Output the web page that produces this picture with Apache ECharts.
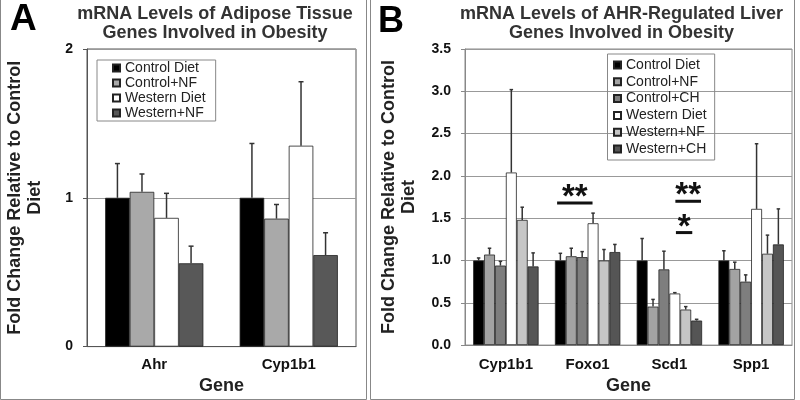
<!DOCTYPE html>
<html>
<head>
<meta charset="utf-8">
<script src="https://cdn.jsdelivr.net/npm/echarts@6/dist/echarts.min.js"></script>
<style>
  html, body { margin: 0; padding: 0; background: #fff; }
  #chart { width: 800px; height: 400px; }
</style>
</head>
<body>
<div id="chart"></div>
<script>
// ---- Panel A: adipose tissue ----
const genesA = ['Ahr', 'Cyp1b1'];
const groupsA = ['Control Diet', 'Control+NF', 'Western Diet', 'Western+NF'];
const controlDietA = [1.00, 1.00];
const controlNfA = [1.04, 0.86];
const westernDietA = [0.865, 1.35];
const westernNfA = [0.56, 0.615];
// upper error (SEM) for each bar
const errControlDietA = [0.23, 0.365];
const errControlNfA = [0.12, 0.095];
const errWesternDietA = [0.165, 0.43];
const errWesternNfA = [0.115, 0.15];

// ---- Panel B: liver ----
const genesB = ['Cyp1b1', 'Foxo1', 'Scd1', 'Spp1'];
const groupsB = ['Control Diet', 'Control+NF', 'Control+CH', 'Western Diet', 'Western+NF', 'Western+CH'];
const controlDietB = [1.00, 1.00, 1.00, 1.00];
const controlNfB = [1.07, 1.05, 0.455, 0.90];
const controlChB = [0.94, 1.04, 0.895, 0.75];
const westernDietB = [2.04, 1.44, 0.61, 1.61];
const westernNfB = [1.48, 1.00, 0.42, 1.08];
const westernChB = [0.93, 1.10, 0.29, 1.19];
const errControlDietB = [0.03, 0.085, 0.26, 0.115];
const errControlNfB = [0.075, 0.095, 0.085, 0.08];
const errControlChB = [0.05, 0.065, 0.215, 0.08];
const errWesternDietB = [0.98, 0.12, 0.01, 0.77];
const errWesternNfB = [0.15, 0.13, 0.035, 0.22];
const errWesternChB = [0.16, 0.09, 0.015, 0.42];

// significance bars: gene, first/last bar slot covered, height (fold change), label
const sigMarks = [
    { gene: 'Foxo1', from: 0.2, to: 3.45, y: 1.68, text: '**' },
    { gene: 'Scd1', from: 3.55, to: 5.9, y: 1.70, text: '**' },
    { gene: 'Scd1', from: 3.6, to: 5.1, y: 1.33, text: '*' },
];

const colorsA = ['#000000', '#a9a9a9', '#ffffff', '#585858'];
const colorsB = ['#000000', '#a3a3a3', '#7e7e7e', '#ffffff', '#c6c6c6', '#555555'];
const GAP_A = 0.27;
const GAP_B = 0.20;
const FONT = 'Liberation Sans, Arial, sans-serif';

const valuesA = [controlDietA, controlNfA, westernDietA, westernNfA];
const errorsA = [errControlDietA, errControlNfA, errWesternDietA, errWesternNfA];
const valuesB = [controlDietB, controlNfB, controlChB, westernDietB, westernNfB, westernChB];
const errorsB = [errControlDietB, errControlNfB, errControlChB, errWesternDietB, errWesternNfB, errWesternChB];

function barSeries(names, values, colors, axis, gap) {
    return names.map((name, i) => ({
        type: 'bar',
        name: name,
        xAxisIndex: axis,
        yAxisIndex: axis,
        data: values[i],
        barGap: '0%',
        barCategoryGap: gap * 100 + '%',
        itemStyle: { color: colors[i], borderColor: '#222', borderWidth: 0.8 },
        emphasis: { disabled: true },
        silent: true,
    }));
}

// upward-only error bars, placed over the matching bar of each group
function errorSeries(values, errors, axis, gap, capW) {
    const n = values.length;
    const data = [];
    values.forEach((vals, k) => vals.forEach((v, c) => data.push([c, k, v, errors[k][c]])));
    return {
        type: 'custom',
        xAxisIndex: axis,
        yAxisIndex: axis,
        z: 5,
        silent: true,
        encode: { x: 0, y: 2 },
        data: data,
        renderItem: (params, api) => {
            const c = api.value(0);
            const k = api.value(1);
            const v = api.value(2);
            const e = api.value(3);
            const bandW = api.size([1, 0])[0];
            const groupW = bandW * (1 - gap);
            const barW = groupW / n;
            const base = api.coord([c, v]);
            const top = api.coord([c, v + e]);
            const x = base[0] - groupW / 2 + barW * (k + 0.5);
            const style = { stroke: '#333', lineWidth: 1.5 };
            return {
                type: 'group',
                children: [
                    { type: 'line', shape: { x1: x, y1: base[1], x2: x, y2: top[1] }, style: style },
                    { type: 'line', shape: { x1: x - capW / 2, y1: top[1], x2: x + capW / 2, y2: top[1] }, style: style },
                ],
            };
        },
    };
}

const sigSeries = {
    type: 'custom',
    xAxisIndex: 1,
    yAxisIndex: 1,
    z: 6,
    silent: true,
    encode: { x: 0, y: 1 },
    data: sigMarks.map((m) => [genesB.indexOf(m.gene), m.y, m.from, m.to]),
    renderItem: (params, api) => {
        const mark = sigMarks[params.dataIndex];
        const p = api.coord([api.value(0), api.value(1)]);
        const bandW = api.size([1, 0])[0];
        const groupW = bandW * (1 - GAP_B);
        const barW = groupW / groupsB.length;
        const x0 = p[0] - groupW / 2;
        const x1 = x0 + api.value(2) * barW;
        const x2 = x0 + api.value(3) * barW;
        return {
            type: 'group',
            children: [
                { type: 'line', shape: { x1: x1, y1: p[1], x2: x2, y2: p[1] }, style: { stroke: '#111', lineWidth: 3 } },
                {
                    type: 'text',
                    x: (x1 + x2) / 2,
                    y: p[1] - 5,
                    style: {
                        text: mark.text,
                        font: 'bold 33px ' + FONT,
                        align: 'center',
                        verticalAlign: 'middle',
                        fill: '#111',
                    },
                },
            ],
        };
    },
};

function legendFor(names, colors, left, top, gap, padding) {
    return {
        data: names.map((n, i) => ({ name: n, itemStyle: { color: colors[i] } })),
        orient: 'vertical',
        left: left,
        top: top,
        icon: 'rect',
        itemWidth: 7,
        itemHeight: 7,
        itemGap: gap,
        padding: padding,
        borderColor: '#888',
        borderWidth: 1,
        selectedMode: false,
        textStyle: { fontSize: 14, color: '#222', fontFamily: FONT, lineHeight: 14 },
    };
}

function xAxisFor(idx, genes, axisColor, margin, nameGap) {
    return {
        gridIndex: idx,
        type: 'category',
        data: genes,
        axisLine: { lineStyle: { color: axisColor } },
        axisTick: { length: 4, lineStyle: { color: axisColor } },
        axisLabel: { fontWeight: 'bold', fontSize: 15, color: '#111', fontFamily: FONT, margin: margin },
        name: 'Gene',
        nameLocation: 'middle',
        nameGap: nameGap,
        nameTextStyle: { fontWeight: 'bold', fontSize: 18, color: '#222', fontFamily: FONT },
    };
}

function yAxisFor(idx, max, interval, axisColor, nameGap, digits) {
    return {
        gridIndex: idx,
        type: 'value',
        min: 0,
        max: max,
        interval: interval,
        axisLine: { show: true, lineStyle: { color: axisColor } },
        axisTick: { show: true, length: 4, lineStyle: { color: axisColor } },
        axisLabel: {
            fontWeight: 'bold', fontSize: 14, color: '#111', fontFamily: FONT, margin: 14,
            formatter: (v) => v.toFixed(digits),
        },
        splitLine: { lineStyle: { color: '#999' } },
        name: 'Fold Change Relative to Control\nDiet',
        nameLocation: 'middle',
        nameGap: nameGap,
        nameTextStyle: { fontWeight: 'bold', fontSize: 18, color: '#222', fontFamily: FONT, lineHeight: 20 },
    };
}

const chart = echarts.init(document.getElementById('chart'));
chart.setOption({
    animation: false,
    backgroundColor: '#fff',
    title: [
        {
            text: 'mRNA Levels of Adipose Tissue\nGenes Involved in Obesity',
            left: 215, top: 5, textAlign: 'center', padding: 0,
            textStyle: { fontSize: 18, fontWeight: 'bold', color: '#333', fontFamily: FONT, lineHeight: 19 },
        },
        {
            text: 'mRNA Levels of AHR-Regulated Liver\nGenes Involved in Obesity',
            left: 621.5, top: 5, textAlign: 'center', padding: 0,
            textStyle: { fontSize: 18, fontWeight: 'bold', color: '#333', fontFamily: FONT, lineHeight: 19 },
        },
    ],
    legend: [
        legendFor(groupsA, colorsA, 97, 60, 1, [1, 10, 1, 15]),
        legendFor(groupsB, colorsB, 607.5, 54, 2.8, [4, 8, 4, 5.5]),
    ],
    grid: [
        { left: 87, top: 49, width: 269, height: 299, show: true, borderColor: '#555', borderWidth: 1 },
        { left: 465, top: 49, width: 327, height: 297, show: true, borderColor: '#888', borderWidth: 1 },
    ],
    xAxis: [
        xAxisFor(0, genesA, '#555', 10.5, 30),
        xAxisFor(1, genesB, '#888', 12, 31.5),
    ],
    yAxis: [
        yAxisFor(0, 2, 1, '#555', 42, 0),
        yAxisFor(1, 3.5, 0.5, '#888', 46, 1),
    ],
    graphic: [
        { type: 'rect', shape: { x: 0.5, y: -2, width: 366, height: 401.5 }, style: { fill: 'none', stroke: '#888', lineWidth: 1 }, silent: true },
        { type: 'rect', shape: { x: 370.5, y: -2, width: 424, height: 401.5 }, style: { fill: 'none', stroke: '#888', lineWidth: 1 }, silent: true },
        { type: 'text', x: 10, y: 20, style: { text: 'A', font: 'bold 37px ' + FONT, fill: '#000', verticalAlign: 'middle' }, silent: true },
        { type: 'text', x: 378, y: 22, style: { text: 'B', font: 'bold 36px ' + FONT, fill: '#000', verticalAlign: 'middle' }, silent: true },
    ],
    series: [
        ...barSeries(groupsA, valuesA, colorsA, 0, GAP_A),
        errorSeries(valuesA, errorsA, 0, GAP_A, 5),
        ...barSeries(groupsB, valuesB, colorsB, 1, GAP_B),
        errorSeries(valuesB, errorsB, 1, GAP_B, 3.5),
        sigSeries,
    ],
});
</script>
</body>
</html>
